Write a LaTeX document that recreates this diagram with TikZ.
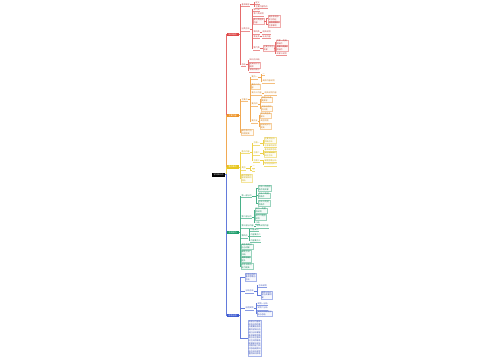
\documentclass[tikz,border=0pt]{standalone}
\usepackage{fontspec}
\setmainfont{Noto Sans CJK SC}
\XeTeXlinebreaklocale "zh"
\XeTeXlinebreakskip=0pt plus 0.5pt
\definecolor{cR}{RGB}{222,70,70}
\definecolor{cO}{RGB}{238,148,40}
\definecolor{cY}{RGB}{232,198,30}
\definecolor{cG}{RGB}{28,158,108}
\definecolor{cB}{RGB}{60,90,210}
\begin{document}
\begin{tikzpicture}[x=1pt,y=-1pt,
  every node/.style={font=\fontsize{2}{2.7}\selectfont, inner sep=0.5pt, anchor=west},
  hub/.style={fill=black,text=white,minimum width=13pt,minimum height=4pt,inner sep=0.3pt},
  mainbox/.style={fill=#1,text=white,minimum width=12pt,minimum height=3.6pt,inner sep=0.3pt},
  lf/.style={text=#1!85!black},
  bx/.style 2 args={text=#1!85!black,draw=#1!45,fill=#1!4,line width=0.2pt,align=left,text width=#2pt},
  ln/.style={draw=#1!80,line width=0.3pt},
  ul/.style={draw=#1!60,line width=0.2pt},
]
\fill[white] (0,0) rectangle (500,360);
\useasboundingbox (0,0) rectangle (500,360);

% centre
\node[hub] (C) at (212,174.5) {学科知识点};

% main branches
\node[mainbox=cR] (R) at (226.5,34.5) {知识结构};
\node[mainbox=cO] (O) at (226.5,115.5) {主要内容};
\node[mainbox=cY] (Y) at (226.5,167) {重点难点};
\node[mainbox=cG] (G) at (226.5,232.5) {方法技巧};
\node[mainbox=cB] (B) at (226.5,315.3) {综合应用};

% ---------- red ----------
\node[lf=cR] (R1) at (241,4.5) {基本概念};
\node[lf=cR] (R1a) at (255,2.5) {定义};
\node[lf=cR] (R1b) at (255,6.5) {主要内容特点};
\node[lf=cR] (R2) at (241,29) {分类方法};
\node[lf=cR] (R2a) at (253,9.5) {第一类};
\node[lf=cR] (R2b) at (253,14) {第二类说明};
\node[bx={cR}{10}] (R2c) at (253,21) {第三类相关内容};
\node[bx={cR}{11}] (R2c1) at (268,18) {具体表现形式与特征};
\node[bx={cR}{11}] (R2c2) at (268,24.5) {应用范围与注意事项};
\node[lf=cR] (R2d) at (253,32) {第四类};
\node[lf=cR] (R2d1) at (262,32) {相关说明};
\node[lf=cR] (R2e) at (253,36.5) {第五类};
\node[lf=cR] (R2e1) at (262,36.5) {补充内容};
\node[lf=cR] (R2f) at (253,48) {第六类};
\node[bx={cR}{10}] (R2f1) at (263,48) {主要方法与步骤};
\node[bx={cR}{11}] (R2f1a) at (276,42.5) {步骤一的具体操作};
\node[bx={cR}{11}] (R2f1b) at (276,48.5) {步骤二的具体操作};
\node[lf=cR] (R2f1c) at (276,53.5) {步骤三说明};
\node[lf=cR] (R3) at (241,64.5) {总结};
\node[lf=cR] (R3a) at (249,60) {知识点归纳};
\node[bx={cR}{10}] (R3b) at (249,65) {重要结论与规律};
\node[lf=cR] (R3c) at (249,70) {易错点提示};

\draw[ln=cR] (C.east) -- ++(0.75,0) |- (R.west);
\draw[ln=cR] (R.east) -- ++(1,0) coordinate (jR) (jR) |- (R1.west) (jR) |- (R2.west) (jR) |- (R3.west);
\draw[ln=cR] (R1.east) -- ++(3.5,0) coordinate (jR1) (jR1) |- (R1a.west) (jR1) |- (R1b.west);
\draw[ln=cR] (R2.east) -- ++(1.5,0) coordinate (jR2)
  foreach \c in {R2a,R2b,R2c,R2d,R2e,R2f} {(jR2) |- (\c.west)};
\draw[ln=cR] (R2c.east) -- ++(2,0) coordinate (jR2c) (jR2c) |- (R2c1.west) (jR2c) |- (R2c2.west);
\draw[ln=cR] (R2d.east) -- (R2d1.west);
\draw[ln=cR] (R2e.east) -- (R2e1.west);
\draw[ln=cR] (R2f.east) -- (R2f1.west);
\draw[ln=cR] (R2f1.east) -- ++(1,0) coordinate (jR2f)
  foreach \c in {R2f1a,R2f1b,R2f1c} {(jR2f) |- (\c.west)};
\draw[ln=cR] (R3.east) -- ++(1.5,0) coordinate (jR3)
  foreach \c in {R3a,R3b,R3c} {(jR3) |- (\c.west)};
\foreach \n in {R1,R1a,R1b,R2,R2a,R2b,R2d,R2d1,R2e,R2e1,R2f,R2f1c,R3,R3a,R3c}
  \draw[ul=cR] (\n.south west) -- (\n.south east);

% ---------- orange ----------
\node[lf=cO] (O1) at (241,99.3) {主要点};
\node[lf=cO] (O1a) at (251,77) {要点一};
\node[lf=cO] (O1a1) at (262,74) {一};
\node[lf=cO] (O1a2) at (262,81) {具体内容说明};
\node[bx={cO}{8}] (O1b) at (251,86.5) {要点二内容};
\node[lf=cO] (O1c) at (251,93) {要点三内容};
\node[lf=cO] (O1c1) at (264,93) {相关说明内容};
\node[lf=cO] (O1d) at (251,104) {要点四};
\node[bx={cO}{10}] (O1d1) at (261,99.5) {原理分析及其推导};
\node[bx={cO}{10}] (O1d2) at (261,108.5) {实际应用中的问题};
\node[lf=cO] (O1e) at (251,121) {要点五};
\node[bx={cO}{10}] (O1e1) at (260,115.5) {常见类型及解法};
\node[lf=cO] (O1e2) at (260,121) {典型例题};
\node[bx={cO}{10}] (O1e3) at (260,126.2) {拓展延伸与提高};
\node[bx={cO}{11}] (O2) at (241,132) {课后练习与巩固提高};

\draw[ln=cO] (C.east) -- ++(0.75,0) |- (O.west);
\draw[ln=cO] (O.east) -- ++(1,0) coordinate (jO) (jO) |- (O1.west) (jO) |- (O2.west);
\draw[ln=cO] (O1.east) -- ++(1.5,0) coordinate (jO1)
  foreach \c in {O1a,O1b,O1c,O1d,O1e} {(jO1) |- (\c.west)};
\draw[ln=cO] (O1a.east) -- ++(2.5,0) coordinate (jO1a) (jO1a) |- (O1a1.west) (jO1a) |- (O1a2.west);
\draw[ln=cO] (O1c.east) -- (O1c1.west);
\draw[ln=cO] (O1d.east) -- ++(1.5,0) coordinate (jO1d) (jO1d) |- (O1d1.west) (jO1d) |- (O1d2.west);
\draw[ln=cO] (O1e.east) -- ++(1,0) coordinate (jO1e)
  foreach \c in {O1e1,O1e2,O1e3} {(jO1e) |- (\c.west)};
\foreach \n in {O1,O1a,O1a1,O1a2,O1c,O1c1,O1d,O1e,O1e2}
  \draw[ul=cO] (\n.south west) -- (\n.south east);

% ---------- yellow ----------
\node[lf=cY] (Y1) at (241,151.7) {重点内容};
\node[lf=cY] (Y1a) at (253,143) {方面一};
\node[bx={cY}{11}] (Y1a1) at (264,140) {主要特征与判断方法};
\node[lf=cY] (Y1a2) at (264,145.5) {注意事项说明};
\node[lf=cY] (Y1b) at (253,153) {方面二};
\node[lf=cY] (Y1b1) at (264,149.8) {基本规律总结};
\node[bx={cY}{11}] (Y1b2) at (264,154.5) {常见错误及纠正方法};
\node[lf=cY] (Y1c) at (253,160.5) {方面三};
\node[lf=cY] (Y1c1) at (264,160.5) {解题思路分析};
\node[lf=cY] (Y1c2) at (264,164.2) {综合运用技巧};
\node[lf=cY] (Y2) at (241,168) {其他};
\node[lf=cY] (Y2a) at (252,166.5) {一};
\node[lf=cY] (Y2b) at (252,170) {二};
\node[bx={cY}{10}] (Y3) at (241,178) {难点突破与易混淆知识辨析};

\draw[ln=cY] (C.east) -- ++(0.75,0) |- (Y.west);
\draw[ln=cY] (Y.east) -- ++(1,0) coordinate (jY)
  foreach \c in {Y1,Y2,Y3} {(jY) |- (\c.west)};
\draw[ln=cY] (Y1.east) -- ++(1.5,0) coordinate (jY1)
  foreach \c in {Y1a,Y1b,Y1c} {(jY1) |- (\c.west)};
\draw[ln=cY] (Y1a.east) -- ++(2.5,0) coordinate (jY1a) (jY1a) |- (Y1a1.west) (jY1a) |- (Y1a2.west);
\draw[ln=cY] (Y1b.east) -- ++(2.5,0) coordinate (jY1b) (jY1b) |- (Y1b1.west) (jY1b) |- (Y1b2.west);
\draw[ln=cY] (Y1c.east) -- ++(2.5,0) coordinate (jY1c) (jY1c) |- (Y1c1.west) (jY1c) |- (Y1c2.west);
\draw[ln=cY] (Y2.east) -- ++(3.5,0) coordinate (jY2) (jY2) |- (Y2a.west) (jY2) |- (Y2b.west);
\foreach \n in {Y1,Y1a,Y1a2,Y1b,Y1b1,Y1c,Y1c1,Y1c2,Y2,Y2a,Y2b}
  \draw[ul=cY] (\n.south west) -- (\n.south east);

% ---------- green ----------
\node[lf=cG] (G1) at (241,195.7) {第一部分内};
\node[bx={cG}{12}] (G1a) at (258,188) {方法一的适用条件和步骤};
\node[bx={cG}{11}] (G1b) at (258,195.5) {方法二的适用条件};
\node[bx={cG}{11}] (G1c) at (258,203) {方法三的适用条件};
\node[lf=cG] (G2) at (241,216.7) {第二部分内};
\node[bx={cG}{11}] (G2a) at (255,210.5) {技巧一的使用说明};
\node[bx={cG}{10}] (G2b) at (255,217) {技巧二使用说明};
\node[lf=cG] (G2c) at (255,222.3) {小结};
\node[lf=cG] (G3) at (241,226) {第三部分内容};
\node[lf=cG] (G3a) at (256,226) {相关说明内容};
\node[lf=cG] (G4) at (241,236) {第四点};
\node[lf=cG] (G4a) at (250,229.5) {内容要点};
\node[lf=cG] (G4b) at (250,234.5) {内容要点二};
\node[lf=cG] (G4c) at (250,240.5) {内容要点三};
\node[bx={cG}{11}] (G5) at (241,246.5) {典型例题分析与讲解};
\node[bx={cG}{9}] (G6) at (241,253) {解题方法归纳};
\node[bx={cG}{9}] (G7) at (241,259.5) {规律总结提升};
\node[bx={cG}{11}] (G8) at (241,266) {综合训练与能力提高};

\draw[ln=cG] (C.east) -- ++(0.75,0) |- (G.west);
\draw[ln=cG] (G.east) -- ++(1,0) coordinate (jG)
  foreach \c in {G1,G2,G3,G4,G5,G6,G7,G8} {(jG) |- (\c.west)};
\draw[ln=cG] (G1.east) -- ++(4,0) coordinate (jG1)
  foreach \c in {G1a,G1b,G1c} {(jG1) |- (\c.west)};
\draw[ln=cG] (G2.east) -- ++(1.5,0) coordinate (jG2)
  foreach \c in {G2a,G2b,G2c} {(jG2) |- (\c.west)};
\draw[ln=cG] (G3.east) -- (G3a.west);
\draw[ln=cG] (G4.east) -- ++(1,0) coordinate (jG4)
  foreach \c in {G4a,G4b,G4c} {(jG4) |- (\c.west)};
\foreach \n in {G1,G2,G2c,G3,G3a,G4,G4a,G4b,G4c}
  \draw[ul=cG] (\n.south west) -- (\n.south east);

% ---------- blue ----------
\node[bx={cB}{10}] (B1) at (245,277) {综合应用的基本思路与方法};
\node[lf=cB] (B2) at (245,291) {分析方法};
\node[lf=cB] (B2a) at (258,285.5) {方法说明};
\node[bx={cB}{10}] (B2b) at (261,295) {具体分析过程与步骤讲解};
\node[lf=cB] (B3) at (245,308) {应用实例};
\node[lf=cB] (B3a) at (257,303.5) {实例一分析};
\node[lf=cB] (B3b) at (257,308) {实例二分析};
\node[bx={cB}{14}] (B3c) at (257,313.5) {实例三的综合分析与总结};
\node[bx={cB}{12}] (B4) at (248,338) {本部分内容是综合应用的重点需要结合前面所学知识点进行分析掌握基本解题思路和方法注意知识之间的联系提高解决实际问题的能力同时总结规律归纳方法形成完整的知识体系};

\draw[ln=cB] (C.east) -- ++(0.75,0) |- (B.west);
\draw[ln=cB] (B.east) -- ++(1,0) coordinate (jB)
  foreach \c in {B1,B2,B3,B4} {(jB) |- (\c.west)};
\draw[ln=cB] (B2.east) -- ++(2.5,0) coordinate (jB2) (jB2) |- (B2a.west) (jB2) |- (B2b.west);
\draw[ln=cB] (B3.east) -- ++(1.5,0) coordinate (jB3)
  foreach \c in {B3a,B3b,B3c} {(jB3) |- (\c.west)};
\foreach \n in {B2,B2a,B3,B3a,B3b}
  \draw[ul=cB] (\n.south west) -- (\n.south east);
\end{tikzpicture}
\end{document}
